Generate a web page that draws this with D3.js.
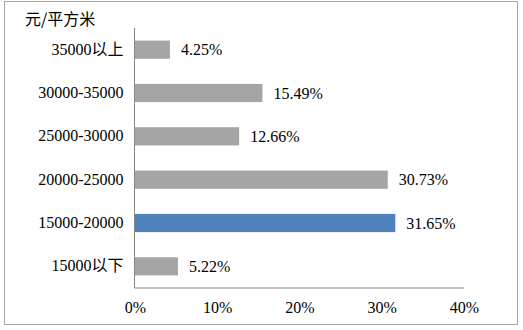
<!DOCTYPE html>
<html>
<head>
<meta charset="utf-8">
<script src="https://cdn.jsdelivr.net/npm/d3@7"></script>
<style>
  html, body { margin: 0; padding: 0; background: #fff; }
  svg { display: block; }
</style>
</head>
<body>
<svg id="chart" width="523" height="330"></svg>
<script>
// Price bands (yuan per square metre), top to bottom
const categories = ["35000以上", "30000-35000", "25000-30000", "20000-25000", "15000-20000", "15000以下"];
// Share of each band, in percent
const values = [4.25, 15.49, 12.66, 30.73, 31.65, 5.22];
// The band drawn in the highlight colour
const highlighted = ["15000-20000"];
const xTicks = [0, 10, 20, 30, 40];
const unitLabel = "元/平方米";

const SERIF = "'Liberation Serif', 'Noto Sans CJK SC', serif";
const svg = d3.select("#chart");
const plot = { left: 135, right: 464, top: 28, bottom: 288 };

// Outer frame
svg.append("rect")
  .attr("x", 4.5).attr("y", 1.5)
  .attr("width", 513).attr("height", 323)
  .attr("fill", "#fff").attr("stroke", "#a6a6a6").attr("stroke-width", 1);

const x = d3.scaleLinear().domain([0, 40]).range([plot.left, plot.right]);
const y = d3.scaleBand().domain(categories).range([plot.top, plot.bottom])
  .paddingInner(0.58).paddingOuter(0.29);

// Bars
svg.append("g").selectAll("rect")
  .data(categories)
  .join("rect")
  .attr("x", x(0))
  .attr("y", d => y(d))
  .attr("width", (d, i) => x(values[i]) - x(0))
  .attr("height", y.bandwidth())
  .attr("fill", d => highlighted.includes(d) ? "#4f81bd" : "#a5a5a5");

// Value labels
svg.append("g").selectAll("text")
  .data(categories)
  .join("text")
  .attr("x", (d, i) => x(values[i]) + 11)
  .attr("y", d => y(d) + y.bandwidth() / 2)
  .attr("dy", "0.35em")
  .style("font-family", SERIF)
  .style("font-size", "16px")
  .style("fill", "#000")
  .text((d, i) => values[i].toFixed(2) + "%");

// Category axis
const yAxis = svg.append("g")
  .attr("transform", `translate(${plot.left - 0.5},0)`)
  .call(d3.axisLeft(y).tickSize(0).tickPadding(11));
yAxis.select(".domain").attr("stroke", "#868686").attr("d", `M0,${plot.top}V${plot.bottom}`);
yAxis.selectAll("text")
  .style("font-family", SERIF)
  .style("font-size", "16px")
  .style("fill", "#000");

// Value axis
const xAxis = svg.append("g")
  .attr("transform", `translate(0,${plot.bottom})`)
  .call(d3.axisBottom(x).tickValues(xTicks).tickSize(0).tickPadding(14).tickFormat(d => d + "%"));
xAxis.select(".domain").attr("stroke", "#868686").attr("d", `M${plot.left - 0.5},0H${plot.right}`);
xAxis.selectAll("text")
  .style("font-family", SERIF)
  .style("font-size", "16px")
  .style("fill", "#000");

// Unit label
svg.append("text")
  .attr("x", 25).attr("y", 25)
  .style("font-family", "'Noto Sans CJK SC', sans-serif")
  .style("font-size", "16px")
  .style("fill", "#000")
  .text(unitLabel);
</script>
</body>
</html>
